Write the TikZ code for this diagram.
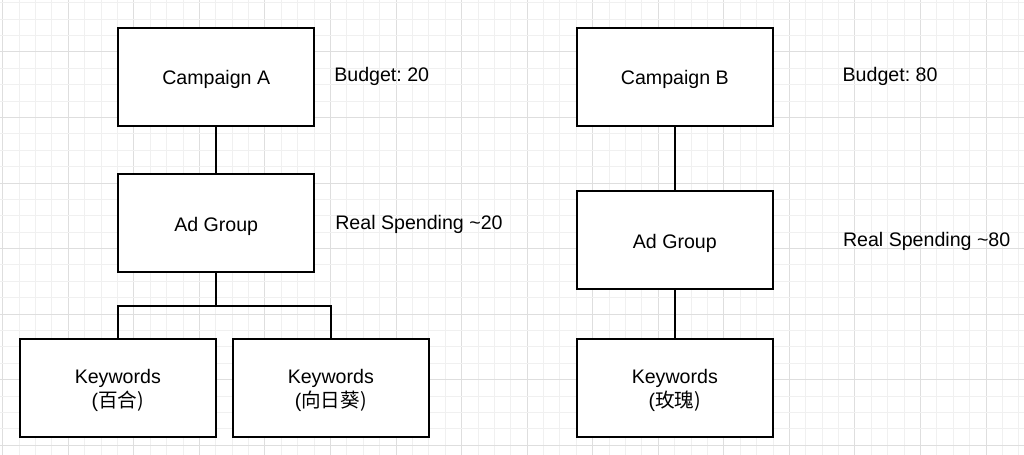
\documentclass[tikz,border=0pt]{standalone}
\usepackage{fontspec}
\setmainfont{Liberation Sans}
\newfontfamily\cjk{Noto Sans CJK SC}
\frenchspacing
\newcommand{\labelfont}{\fontsize{12}{14.4}\selectfont}
\tikzstyle{box}=[draw, line width=1.1pt, fill=white, inner sep=0, minimum width=120pt, minimum height=60pt]
\tikzstyle{boxtext}=[inner sep=0, align=center, yshift=-1.8pt, font=\labelfont]
\tikzstyle{note}=[inner sep=0, anchor=base west, font=\labelfont]
\tikzstyle{link}=[draw, line width=1.1pt]
\tikzstyle{minorline}=[draw=black!6, line width=0.6pt]
\tikzstyle{majorline}=[draw=black!13, line width=0.6pt]
\tikzstyle{canvas}=[x=0.6122pt, y=-0.6122pt,
                    % white page with the grid behind everything
                    execute at begin picture={\fill[white] (0,0) rectangle (1024,455);}]

\begin{document}
\begin{tikzpicture}[canvas]
        \useasboundingbox (0,0) rectangle (1024,455);
        % grid
        \foreach \k in {0,...,62} {
            \pgfmathsetmacro{\gx}{2.7+16.39*\k}
            \pgfmathtruncatemacro{\m}{mod(\k,4)}
            \ifnum\m=0 \path[majorline] (\gx,0) -- (\gx,455); \else \path[minorline] (\gx,0) -- (\gx,455); \fi
        }
        \foreach \k in {0,...,27} {
            \pgfmathsetmacro{\gy}{2.7+16.39*\k}
            \pgfmathtruncatemacro{\m}{mod(\k,4)}
            \ifnum\m=3 \path[majorline] (0,\gy) -- (1024,\gy); \else \path[minorline] (0,\gy) -- (1024,\gy); \fi
        }
        % campaign A
        \node[box, label={[boxtext]center:Campaign A}] (campA) at (216.2, 76.8)  {};
        \node[box, label={[boxtext]center:Ad Group}]   (adA)   at (216.2, 223.3) {};
        \node[box, label={[boxtext]center:Keywords\\(\cjk{百合})}]   (kwA1) at (117.8, 387.7) {};
        \node[box, label={[boxtext]center:Keywords\\(\cjk{向日葵})}] (kwA2) at (330.8, 387.7) {};
        \coordinate (split) at (216.2, 305.7);
        \node[note] (budgetA) at (334, 81.7)  {Budget: 20};
        \node[note] (spendA)  at (335, 229.3) {Real Spending \textasciitilde20};
        % campaign B
        \node[box, label={[boxtext]center:Campaign B}] (campB) at (674.8, 76.8)  {};
        \node[box, label={[boxtext]center:Ad Group}]   (adB)   at (674.8, 240.2) {};
        \node[box, label={[boxtext]center:Keywords\\(\cjk{玫瑰})}] (kwB) at (674.8, 387.7) {};
        \node[note] (budgetB) at (842.3, 81.7)  {Budget: 80};
        \node[note] (spendB)  at (842.7, 246.7) {Real Spending \textasciitilde80};
        % links
        \path[link] (campA) -- (adA);
        \path[link] (adA) -- (split);
        \path[link] (kwA1.north) |- (split) -| (kwA2.north);
        \path[link] (campB) -- (adB) -- (kwB);
    \end{tikzpicture}
\end{document}
